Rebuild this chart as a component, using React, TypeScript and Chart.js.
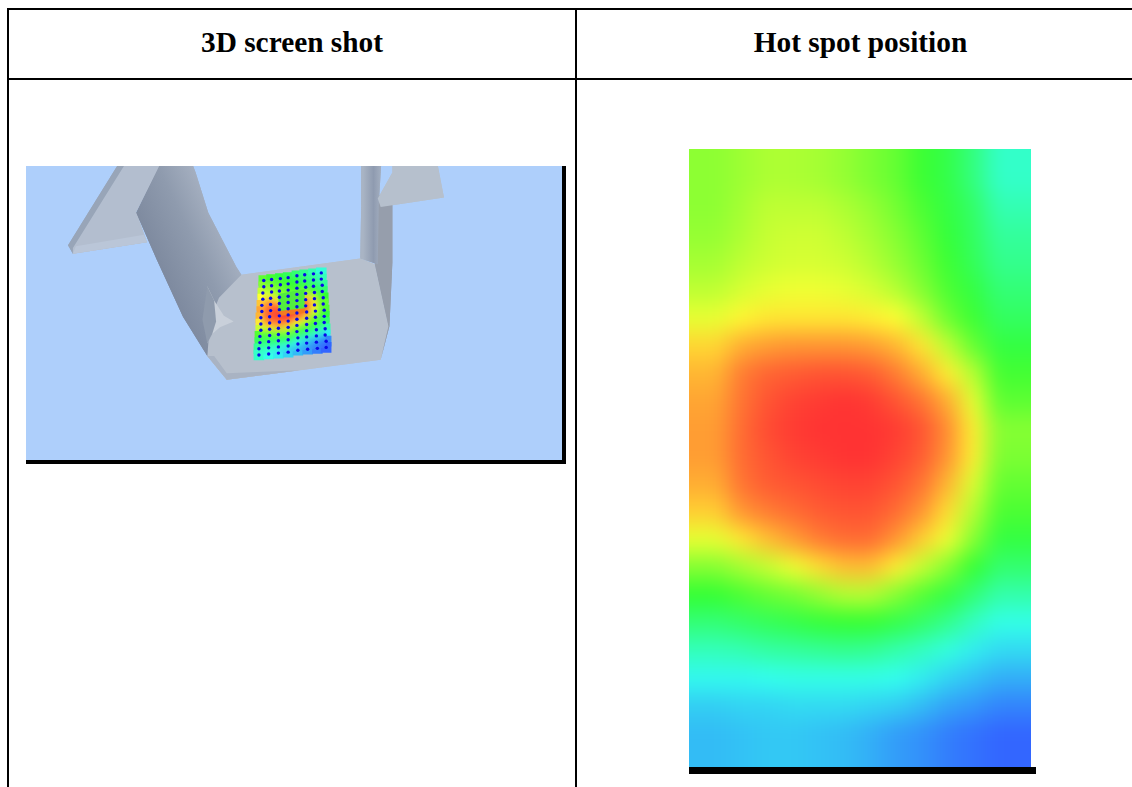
import React, { useEffect, useRef } from "react";
import { Chart, registerables } from "chart.js";

Chart.register(...registerables);

const headers = ["3D screen shot", "Hot spot position"];

// Right panel: temperature (0 blue, 25 cyan, 50 green, 75 yellow, 100 red)
const heatRows: number[][] = [
  [61, 63, 65, 65, 64, 62, 59, 56, 51, 47, 40, 30],
  [61, 64, 67, 67, 67, 65, 62, 58, 53, 48, 43, 33],
  [62, 65, 68, 69, 69, 67, 64, 60, 55, 49, 44, 36],
  [64, 67, 69, 70, 70, 69, 66, 62, 57, 51, 45, 38],
  [67, 70, 72, 73, 73, 72, 70, 66, 60, 53, 48, 41],
  [72, 76, 78, 78, 78, 78, 77, 75, 67, 57, 51, 44],
  [80, 85, 87, 88, 88, 88, 87, 84, 78, 67, 56, 48],
  [84, 91, 94, 95, 96, 96, 95, 91, 85, 77, 66, 52],
  [86, 92, 96, 98, 99, 100, 99, 96, 92, 85, 72, 55],
  [87, 93, 97, 99, 100, 100, 100, 99, 96, 89, 77, 60],
  [87, 93, 96, 98, 99, 100, 100, 98, 95, 88, 77, 59],
  [85, 92, 95, 96, 97, 98, 98, 96, 92, 84, 71, 56],
  [81, 88, 91, 93, 95, 96, 96, 93, 88, 79, 66, 53],
  [72, 78, 83, 87, 91, 93, 93, 88, 81, 73, 60, 48],
  [60, 64, 68, 73, 79, 83, 83, 77, 68, 60, 50, 42],
  [50, 53, 56, 58, 62, 66, 66, 60, 54, 48, 41, 34],
  [41, 43, 45, 47, 49, 50, 50, 47, 43, 38, 31, 26],
  [32, 33, 35, 36, 37, 38, 37, 34, 31, 27, 22, 19],
  [24, 24, 25, 26, 26, 26, 26, 25, 22, 18, 15, 12],
  [17, 18, 18, 19, 19, 19, 18, 17, 14, 10, 8, 5],
  [14, 15, 16, 16, 15, 14, 12, 9, 7, 4, 2, 0],
];

// Left panel: patch temperatures and sensor lattice
const patchRows: number[][] = [
  [55, 52, 48, 45, 42, 38, 33, 28],
  [60, 58, 54, 50, 46, 42, 37, 32],
  [68, 64, 58, 54, 50, 46, 42, 36],
  [75, 72, 64, 58, 55, 62, 52, 42],
  [82, 88, 78, 70, 70, 82, 70, 50],
  [86, 94, 95, 90, 90, 96, 80, 56],
  [84, 96, 98, 100, 98, 92, 74, 54],
  [78, 92, 96, 97, 92, 82, 64, 48],
  [68, 78, 84, 82, 76, 66, 52, 42],
  [54, 57, 62, 64, 56, 48, 42, 34],
  [44, 44, 46, 46, 41, 34, 28, 22],
  [36, 35, 32, 29, 25, 18, 12, 6],
  [30, 26, 22, 18, 14, 9, 4, 0],
];
const latticeX: number[][] = [
  [263, 271, 280, 288, 297, 305, 314, 322],
  [263, 271, 280, 288, 297, 305, 314, 322],
  [262, 271, 279, 288, 297, 306, 314, 323],
  [262, 270, 279, 288, 297, 306, 315, 323],
  [261, 270, 279, 288, 297, 306, 315, 324],
  [261, 270, 279, 288, 297, 306, 315, 324],
  [260, 269, 279, 288, 297, 307, 316, 325],
  [260, 269, 279, 288, 297, 307, 316, 325],
  [260, 269, 278, 288, 297, 307, 316, 325],
  [259, 269, 278, 288, 297, 307, 317, 326],
  [259, 268, 278, 288, 298, 307, 317, 326],
  [258, 268, 278, 288, 298, 307, 317, 327],
  [258, 268, 278, 288, 298, 308, 318, 327],
];
const latticeRowY = [279, 285.5, 292, 298.5, 305, 311.5, 318, 324.5, 331, 337.5, 344, 350.5, 357];
const latticeColDrop = [0, 1, 2, 3, 5, 6, 7, 8];
const patchOutline: [number, number][] = [[263, 279], [322, 271], [327, 349], [258, 357]];

// Left panel: outlines of the part, page coordinates
type Shape = { pts: [number, number][]; color: string; ramp?: [number, number, number, number, string[]] };
const shapes: Shape[] = [
  { color: "#98a5b8", pts: [[118, 150], [135, 150], [67, 251], [62, 242]] },
  { color: "#b3becf", pts: [[125, 150], [161, 150], [132, 207], [143, 239], [67, 251], [67, 245]] },
  { color: "#bac6d8", pts: [[70, 243], [140, 231], [143, 239], [67, 251]] },
  { color: "#b7c0cd", pts: [[240, 273], [362, 256], [377, 262], [391, 327], [383, 362], [225, 383], [205, 358], [203, 300]] },
  { color: "#a9b3c3", pts: [[205, 358], [225, 383], [300, 373], [225, 376], [212, 358]] },
  {
    color: "#919cb0",
    ramp: [140, 225, 215, 190, ["#7e8a9f", "#8f9bae", "#abb5c5"]],
    pts: [[160, 150], [187, 150], [193, 166], [206, 208], [235, 265], [240, 273], [217, 297], [208, 320], [205, 358], [180, 317], [153, 257], [132, 208]],
  },
  { color: "#c9d0da", pts: [[205, 285], [212, 300], [222, 316], [232, 322], [218, 328], [210, 335], [205, 345]] },
  { color: "#8f9bad", pts: [[205, 285], [212, 300], [214, 322], [210, 335], [205, 345], [200, 320]] },
  { color: "#969eac", pts: [[378, 190], [395, 190], [395, 260], [392, 327], [383, 362], [391, 327], [377, 262]] },
  {
    color: "#a5b0c0",
    ramp: [363, 200, 384, 200, ["#a9b4c4", "#8f9bb0", "#abb6c6"]],
    pts: [[363, 150], [384, 150], [383, 166], [381, 200], [380, 262], [362, 256], [363, 200]],
  },
  { color: "#b6c0cd", pts: [[395, 150], [440, 150], [448, 192], [383, 202], [380, 193], [395, 166]] },
];
const boxShapes: Shape[] = [
  { color: "#52ec40", pts: [[278, 293], [305, 288], [305, 309], [278, 312]] },
  { color: "#f47a20", pts: [[278, 311], [305, 308], [305, 313], [281, 316]] },
];

const heatColor = (v: number) => {
  const stops = [[51, 102, 255], [51, 255, 238], [51, 255, 51], [255, 255, 51], [255, 51, 51]];
  const p = Math.max(0, Math.min(100, v)) / 25;
  const i = Math.min(3, Math.floor(p));
  const t = p - i;
  const c = stops[i].map((a, k) => Math.round(a + (stops[i + 1][k] - a) * t));
  return `rgb(${c[0]},${c[1]},${c[2]})`;
};

const selfBlur = (chart: any, px: number) => {
  const ctx = chart.ctx;
  ctx.save();
  ctx.setTransform(1, 0, 0, 1, 0, 0);
  ctx.filter = `blur(${px}px)`;
  ctx.drawImage(chart.canvas, 0, 0);
  ctx.restore();
};

const baseOptions = (xMin: number, xMax: number, yMin: number, yMax: number): any => ({
  responsive: false,
  animation: false,
  events: [],
  layout: { padding: 0 },
  plugins: { legend: { display: false }, tooltip: { enabled: false }, title: { display: false } },
  scales: {
    x: { type: "linear", display: false, min: xMin, max: xMax },
    y: { type: "linear", display: false, min: yMin, max: yMax, reverse: true },
  },
});

const LEFT_VIEW = { xMin: 6, xMax: 582, yMin: 146, yMax: 480 };

export default function App() {
  const leftRef = useRef<HTMLCanvasElement>(null);
  const rightRef = useRef<HTMLCanvasElement>(null);

  useEffect(() => {
    // Right panel
    const pad = 2;
    const nRows = heatRows.length;
    const nCols = heatRows[0].length;
    const cells: { x: number; y: number; v: number }[] = [];
    for (let r = -pad; r < nRows + pad; r++) {
      for (let c = -pad; c < nCols + pad; c++) {
        const rr = Math.max(0, Math.min(nRows - 1, r));
        const cc = Math.max(0, Math.min(nCols - 1, c));
        cells.push({ x: c + 0.5, y: r + 0.5, v: heatRows[rr][cc] });
      }
    }
    const right = new Chart(rightRef.current!, {
      type: "scatter",
      data: {
        datasets: [
          {
            data: cells,
            pointStyle: "rect",
            pointRadius: 22,
            borderWidth: 0,
            pointBorderWidth: 0,
            backgroundColor: cells.map((d) => heatColor(d.v)),
          } as any,
        ],
      },
      options: baseOptions(-pad, nCols + pad, -pad, nRows + pad),
      plugins: [{ id: "soft", afterDatasetsDraw: (ch: any) => selfBlur(ch, 11) }],
    });

    // Left panel
    const lattice = latticeX.flatMap((row, r) =>
      row.map((x, c) => ({ x, y: latticeRowY[r] - latticeColDrop[c] }))
    );
    const patchVals = patchRows.flat();
    const leftCtx = leftRef.current!.getContext("2d")!;
    const fillFor = (s: Shape) => {
      if (!s.ramp) return s.color;
      const [x0, y0, x1, y1, cols] = s.ramp;
      const g = leftCtx.createLinearGradient(
        x0 - LEFT_VIEW.xMin, y0 - LEFT_VIEW.yMin, x1 - LEFT_VIEW.xMin, y1 - LEFT_VIEW.yMin
      );
      cols.forEach((col, i) => g.addColorStop(i / (cols.length - 1), col));
      return g;
    };
    const poly = (s: Shape, order: number): any => ({
      type: "scatter",
      showLine: true,
      fill: "shape",
      data: [...s.pts, s.pts[0]].map(([x, y]) => ({ x, y })),
      borderWidth: 0,
      borderColor: s.color,
      backgroundColor: fillFor(s),
      pointRadius: 0,
      tension: 0,
      order,
    });
    const datasets: any[] = [];
    let order = 100;
    shapes.forEach((s) => datasets.push(poly(s, order--)));
    const cellOrder = order--;
    const cellIndex = datasets.length;
    datasets.push({
      type: "scatter",
      data: lattice,
      pointStyle: "rect",
      pointRadius: 7.5,
      pointBorderWidth: 0,
      borderWidth: 0,
      backgroundColor: patchVals.map(heatColor),
      order: cellOrder,
    });
    boxShapes.forEach((s) => datasets.push(poly(s, order--)));
    datasets.push({
      type: "scatter",
      data: lattice,
      pointRadius: 1.7,
      pointBorderWidth: 0,
      backgroundColor: "#0808e8",
      order: order--,
    });

    const left = new Chart(leftRef.current!, {
      type: "scatter",
      data: { datasets },
      options: baseOptions(LEFT_VIEW.xMin, LEFT_VIEW.xMax, LEFT_VIEW.yMin, LEFT_VIEW.yMax),
      plugins: [
        {
          id: "patchSoft",
          afterDatasetDraw: (ch: any, args: any) => {
            if (args.index !== cellIndex) return;
            const ctx = ch.ctx;
            const sx = ch.scales.x;
            const sy = ch.scales.y;
            ctx.save();
            ctx.beginPath();
            patchOutline.forEach(([x, y], i) => {
              const px = sx.getPixelForValue(x);
              const py = sy.getPixelForValue(y);
              if (i === 0) ctx.moveTo(px, py);
              else ctx.lineTo(px, py);
            });
            ctx.closePath();
            ctx.clip();
            ctx.filter = "blur(3px)";
            ctx.drawImage(ch.canvas, 0, 0);
            ctx.restore();
          },
        },
        { id: "soft", afterDatasetsDraw: (ch: any) => selfBlur(ch, 0.7) },
      ],
    });

    return () => {
      right.destroy();
      left.destroy();
    };
  }, []);

  const line = (left: number, top: number, width: number, height: number) => (
    <div style={{ position: "absolute", left, top, width, height, background: "#000" }} />
  );
  const head = (text: string, cx: number) => (
    <div
      style={{
        position: "absolute",
        left: cx - 200,
        width: 400,
        top: 22,
        height: 40,
        lineHeight: "40px",
        textAlign: "center",
        fontFamily: '"Liberation Serif", serif',
        fontWeight: 700,
        fontSize: 29.33,
        color: "#000",
      }}
    >
      {text}
    </div>
  );

  return (
    <div style={{ position: "fixed", left: 0, top: 0, width: 1132, height: 787, overflow: "hidden", background: "#fff" }}>
      {line(7, 8, 1125, 2)}
      {line(7, 78, 1125, 2)}
      {line(7, 8, 2, 779)}
      {line(575, 8, 2, 779)}
      {head(headers[0], 292)}
      {head(headers[1], 860.5)}
      {line(562, 166, 4, 298)}
      {line(26, 460, 540, 4)}
      <div style={{ position: "absolute", left: 26, top: 166, width: 536, height: 294, overflow: "hidden", background: "#aecffb" }}>
        <canvas ref={leftRef} width={576} height={334} style={{ position: "absolute", left: -20, top: -20, width: 576, height: 334 }} />
      </div>
      <div style={{ position: "absolute", left: 689, top: 149, width: 342, height: 618, overflow: "hidden" }}>
        <canvas ref={rightRef} width={456} height={736} style={{ position: "absolute", left: -57, top: -59, width: 456, height: 736 }} />
      </div>
      {line(689, 767, 347, 7)}
    </div>
  );
}
